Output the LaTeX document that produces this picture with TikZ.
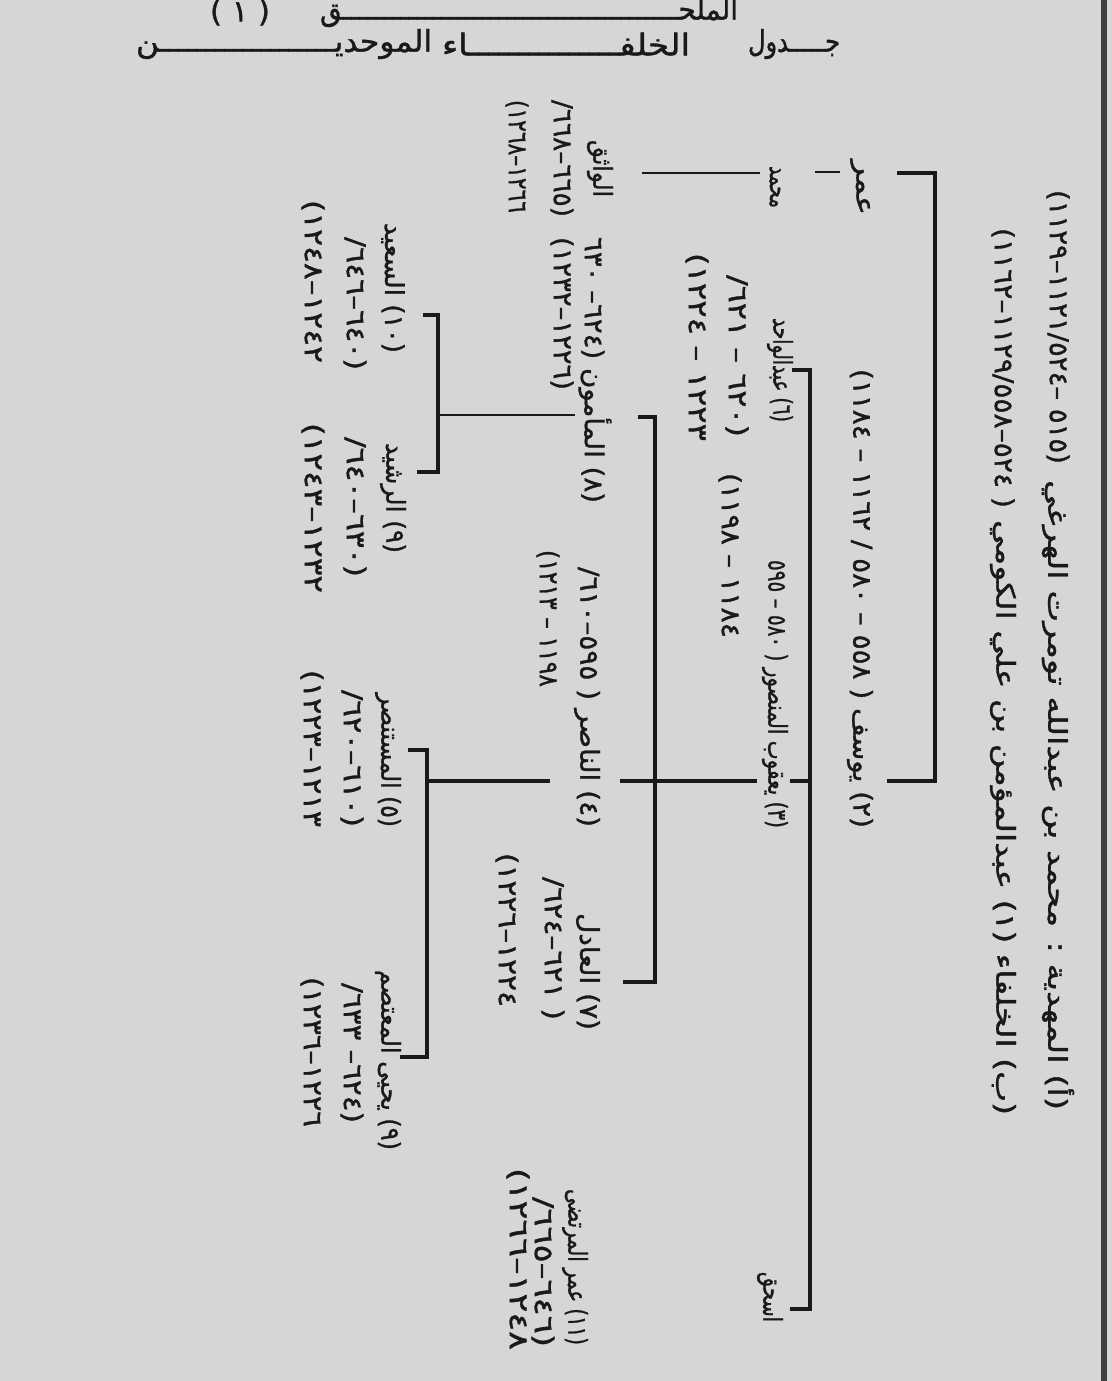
\documentclass[tikz,border=0pt]{standalone}
\usepackage{fontspec}
\usepackage{graphicx}
\newfontfamily\ar[Script=Arabic,FakeBold=1.2]{DejaVu Sans}
\TeXXeTstate=1
\definecolor{ink}{RGB}{25,25,25}
\definecolor{paper}{RGB}{214,214,214}
\newcommand\vfont{\ar\fontsize{13}{15}\selectfont}
\newcommand\hfont{\ar\fontsize{15}{17}\selectfont}
\newcommand\sla{\kern0pt/\kern0pt}
% vertical (rotated) text fitted to a span: name, x, ytop, ybot, text
\newcommand\vt[5]{%
  \node[vtxt] (#1) at (#2,{(#3+#4)/2})
    {\resizebox{\dimexpr0.5pt*\numexpr#4-#3\relax\relax}{\height}{\beginR#5\endR}};}
% upright text fitted to a span: name, xleft, xright, y, text
\newcommand\hzt[5]{%
  \node[htxt] (#1) at ({(#2+#3)/2},#4)
    {\resizebox{\dimexpr0.5pt*\numexpr#3-#2\relax\relax}{\height}{\beginR#5\endR}};}
\tikzset{
  vtxt/.style={rotate=-90,inner sep=0pt,text=ink,font=\vfont},
  htxt/.style={inner sep=0pt,text=ink,font=\hfont},
  brk/.style={draw=ink,line width=1.6pt},
  thn/.style={draw=ink,line width=1pt}
}
\begin{document}
\begin{tikzpicture}[x=0.5pt,y=-0.5pt]
\fill[paper] (0,0) rectangle (1112,1381);
\useasboundingbox (0,0) rectangle (1112,1381);
\fill[black!75] (1101,0) rectangle (1107,1381);
% header
\hzt{t1a}{320}{738}{12}{الملحـــــــــــــــــــــــــــــــــــــــــق}
\hzt{t1b}{210}{270}{12}{( ١ )}
\hzt{t2a}{748}{840}{44}{جـــــدول}
\hzt{t2b}{442}{690}{44}{الخلفـــــــــــــــاء}
\hzt{t2c}{136}{432}{44}{الموحديـــــــــــــــــــن}
% texts
\vt{hAd}{1058}{190}{464}{(٥١٥ –٥٢٤\sla١١٢١–١١٢٩)}
\vt{hA}{1058}{480}{1110}{(أ) المهدية : محمد بن عبدالله تومرت الهرغي}
\vt{hBd}{1003}{228}{508}{( ٥٢٤–٥٥٨\sla١١٢٩–١١٦٢)}
\vt{hB}{1003}{520}{1115}{(ب) الخلفاء (١) عبدالمؤمن بن علي الكومي}
\vt{omar}{860}{160}{215}{عمر}
\vt{yusuf}{860}{369}{828}{(٢) يوسف ( ٥٥٨ – ٥٨٠ / ١١٦٢ – ١١٨٤)}
\vt{muh}{775}{166}{208}{محمد}
\vt{wathiq}{600}{140}{197}{الواثق}
\vt{wathiqA}{562}{100}{217}{(٦٦٥–٦٦٨/}
\vt{wathiqB}{517}{100}{213}{١٢٦٦–١٢٦٨)}
\vt{wahid}{780}{318}{422}{(٦) عبدالواحد}
\vt{wahidA}{737}{275}{437}{(٦٢٠ – ٦٢١/}
\vt{wahidB}{697}{253}{441}{١٢٢٣ – ١٢٢٤)}
\vt{yaqub}{775}{560}{828}{(٣) يعقوب المنصور ( ٥٨٠ – ٥٩٥}
\vt{yaqubA}{730}{473}{638}{١١٨٤ – ١١٩٨)}
\vt{ishaq}{770}{1272}{1322}{اسحق}
\vt{mamun}{595}{237}{503}{(٨) المأمون (٦٢٤– ٦٣٠}
\vt{mamunA}{562}{237}{390}{(١٢٢٦–١٢٣٢)}
\vt{nasir}{587}{567}{827}{(٤) الناصر ( ٥٩٥–٦١٠/}
\vt{nasirA}{548}{550}{687}{١١٩٨ – ١٢١٣)}
\vt{adil}{588}{913}{1030}{(٧) العادل}
\vt{adilA}{553}{877}{1020}{( ٦٢١–٦٢٤/}
\vt{adilB}{507}{853}{1007}{١٢٢٤–١٢٢٦)}
\vt{murtada}{575}{1189}{1345}{(١١) عمر المرتضى}
\vt{murtadaA}{543}{1197}{1347}{(٦٤٦–٦٦٥/}
\vt{murtadaB}{518}{1168}{1350}{١٢٤٨–١٢٦٦)}
\vt{must}{388}{693}{827}{(٥) المستنصر}
\vt{mustA}{352}{690}{827}{(٦١٠–٦٢٠/}
\vt{mustB}{312}{670}{827}{١٢١٣–١٢٢٣)}
\vt{yahya}{388}{970}{1150}{(٩) يحيى المعتصم}
\vt{yahyaA}{352}{983}{1123}{(٦٢٤– ٦٣٣/}
\vt{yahyaB}{312}{977}{1127}{١٢٢٦–١٢٣٦)}
\vt{rashid}{393}{443}{553}{(٩) الرشيد}
\vt{rashidA}{355}{437}{577}{(٦٣٠–٦٤٠/}
\vt{rashidB}{313}{423}{593}{١٢٣٢–١٢٤٣)}
\vt{said}{393}{223}{353}{(١٠) السعيد}
\vt{saidA}{355}{237}{370}{(٦٤٠–٦٤٦/}
\vt{saidB}{313}{200}{363}{١٢٤٢–١٢٤٨)}
% connectors
\coordinate (b1a) at (897,173); \coordinate (b1b) at (935,173);
\coordinate (b1c) at (935,781); \coordinate (b1d) at (887,781);
\draw[brk] (b1a) -- (b1b) -- (b1c) -- (b1d);
\coordinate (d1a) at (815,172); \coordinate (d1b) at (840,172);
\draw[thn] (d1a) -- (d1b);
\coordinate (d2a) at (642,173); \coordinate (d2b) at (760,173);
\draw[thn] (d2a) -- (d2b);
\coordinate (b2a) at (792,370); \coordinate (b2b) at (810,370);
\coordinate (b2c) at (810,1309); \coordinate (b2d) at (790,1309);
\coordinate (b2m) at (810,781); \coordinate (b2n) at (790,781);
\draw[brk] (b2a) -- (b2b) -- (b2c) -- (b2d);
\draw[brk] (b2m) -- (b2n);
\coordinate (l1a) at (757,781); \coordinate (l1b) at (620,781);
\draw[brk] (l1a) -- (l1b);
\coordinate (b3a) at (638,417); \coordinate (b3b) at (655,417);
\coordinate (b3c) at (655,982); \coordinate (b3d) at (623,982);
\draw[brk] (b3a) -- (b3b) -- (b3c) -- (b3d);
\coordinate (l2a) at (550,781); \coordinate (l2b) at (427,781);
\draw[brk] (l2a) -- (l2b);
\coordinate (b4a) at (408,750); \coordinate (b4b) at (427,750);
\coordinate (b4c) at (427,1057); \coordinate (b4d) at (400,1057);
\draw[brk] (b4a) -- (b4b) -- (b4c) -- (b4d);
\coordinate (l3a) at (575,415); \coordinate (l3b) at (438,415);
\draw[thn] (l3a) -- (l3b);
\coordinate (b5a) at (423,315); \coordinate (b5b) at (438,315);
\coordinate (b5c) at (438,472); \coordinate (b5d) at (417,472);
\draw[brk] (b5a) -- (b5b) -- (b5c) -- (b5d);
\end{tikzpicture}
\end{document}
